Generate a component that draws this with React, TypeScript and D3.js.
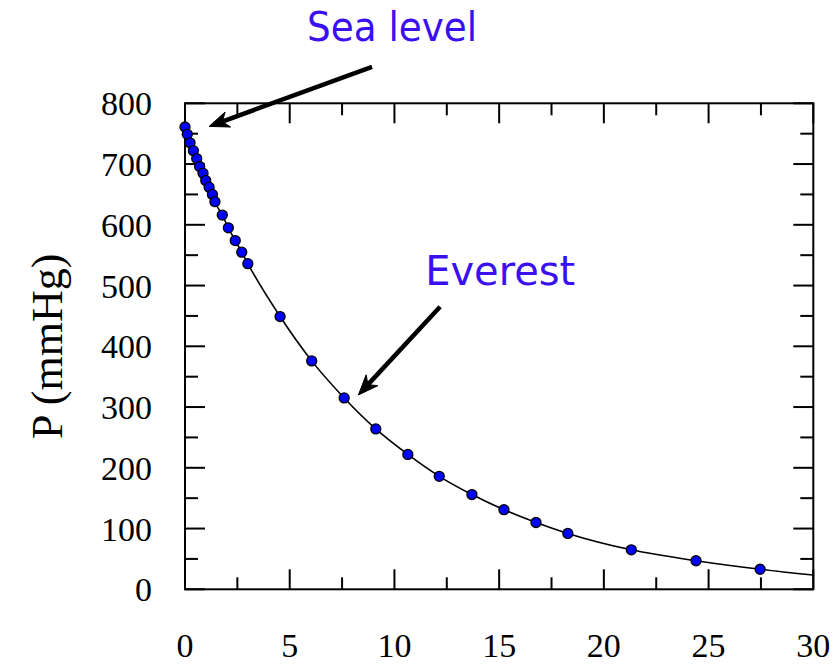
import React from "react";
import * as d3 from "d3";

// Altitude (km) and pressure (mmHg)
const altitude = [0, 0.11, 0.24, 0.40, 0.56, 0.70, 0.86, 0.99, 1.15, 1.31, 1.43, 1.78, 2.07, 2.40, 2.71, 3.0,
  4.54, 6.05, 7.60, 9.11, 10.64, 12.14, 13.70, 15.23, 16.76, 18.28, 21.31, 24.40, 27.46];
const pressure = [761, 749, 735, 722, 709, 696, 685, 673, 662, 650, 638, 616, 595, 574, 555, 536,
  449, 376, 315, 264, 222, 186, 156, 131, 110, 92, 65, 47, 33];
// smooth curve continues to the right edge
const curveEndX = 30;
const curveEndY = 23.5;

const xTicks = [0, 5, 10, 15, 20, 25, 30];
const yTicks = [0, 100, 200, 300, 400, 500, 600, 700, 800];
const yTitle = "P (mmHg)";

// annotations in data coordinates
const annLabels = ["Sea level", "Everest"];
const annText = [[5.83, 902], [11.47, 501]];
const annTail = [[8.93, 860], [12.18, 465]];
const annTip = [[1.15, 762], [8.28, 320]];
const annWidth = [170, 150];

export default function App() {
  const W = 840, H = 664;
  const left = 185, right = 813.3, top = 103.3, bottom = 589.3;
  const x = d3.scaleLinear().domain([0, 30]).range([left, right]);
  const y = d3.scaleLinear().domain([0, 800]).range([bottom, top]);

  const curvePts: [number, number][] = altitude.map((a, i) => [a, pressure[i]]);
  curvePts.push([curveEndX, curveEndY]);
  const line = d3.line<[number, number]>()
    .x(d => x(d[0]))
    .y(d => y(d[1]))
    .curve(d3.curveMonotoneX);

  const xMinor = d3.range(0, 30.01, 2.5);
  const yMinor = d3.range(0, 800.01, 50);
  const serif = "'Liberation Serif', 'Times New Roman', Times, serif";
  const comic = "'Comic Sans MS', 'DejaVu Sans', sans-serif";
  const annColor = "#3a10f2";

  const arrows = annLabels.map((lab, i) => {
    const x1 = x(annTail[i][0]), y1 = y(annTail[i][1]);
    const x2 = x(annTip[i][0]), y2 = y(annTip[i][1]);
    const ang = Math.atan2(y2 - y1, x2 - x1);
    const len = 20, half = 8, notch = 14;
    const ex = x2 - Math.cos(ang) * notch, ey = y2 - Math.sin(ang) * notch;
    const bx = x2 - Math.cos(ang) * len, by = y2 - Math.sin(ang) * len;
    const px = -Math.sin(ang), py = Math.cos(ang);
    const head = `M${x2},${y2} L${bx + px * half},${by + py * half} L${ex},${ey} L${bx - px * half},${by - py * half} Z`;
    return (
      <g key={lab}>
        <line x1={x1} y1={y1} x2={ex} y2={ey} stroke="#000" strokeWidth={4.5} />
        <path d={head} fill="#000" stroke="#000" strokeWidth={1} strokeLinejoin="miter" />
        <text x={x(annText[i][0])} y={y(annText[i][1])} fill={annColor} fontFamily={comic}
          fontSize={40} textLength={annWidth[i]} lengthAdjust="spacingAndGlyphs">{lab}</text>
      </g>
    );
  });

  return (
    <svg width={W} height={H} style={{ position: "absolute", left: 0, top: 0, background: "#fff" }}>
      {xMinor.map(v => {
        const major = Math.abs(v % 5) < 1e-6;
        const l = major ? 20 : 12;
        return (
          <g key={"xt" + v}>
            <line x1={x(v)} x2={x(v)} y1={bottom} y2={bottom - l} stroke="#000" strokeWidth={2} />
            <line x1={x(v)} x2={x(v)} y1={top} y2={top + l} stroke="#000" strokeWidth={2} />
          </g>
        );
      })}
      {yMinor.map(v => {
        const major = Math.abs(v % 100) < 1e-6;
        const l = major ? 20 : 13;
        return (
          <g key={"yt" + v}>
            <line x1={left} x2={left + l} y1={y(v)} y2={y(v)} stroke="#000" strokeWidth={2} />
            <line x1={right} x2={right - l} y1={y(v)} y2={y(v)} stroke="#000" strokeWidth={2} />
          </g>
        );
      })}
      <rect x={left} y={top} width={right - left} height={bottom - top} fill="none" stroke="#000" strokeWidth={2} />
      {xTicks.map(v => (
        <text key={"xl" + v} x={x(v)} y={657} textAnchor="middle" fontFamily={serif} fontSize={34} fill="#000">{v}</text>
      ))}
      {yTicks.map(v => (
        <text key={"yl" + v} x={152} y={y(v) + 12} textAnchor="end" fontFamily={serif} fontSize={34} fill="#000">{v}</text>
      ))}
      <text transform={`translate(62,${(top + bottom) / 2}) rotate(-90)`} textAnchor="middle" fontFamily={serif} fontSize={44} fill="#000">{yTitle}</text>
      <path d={line(curvePts) || ""} fill="none" stroke="#000" strokeWidth={1.6} />
      {altitude.map((a, i) => (
        <circle key={"p" + i} cx={x(a)} cy={y(pressure[i])} r={5} fill="#0000ff" stroke="#000" strokeWidth={1.3} />
      ))}
      {arrows}
    </svg>
  );
}
